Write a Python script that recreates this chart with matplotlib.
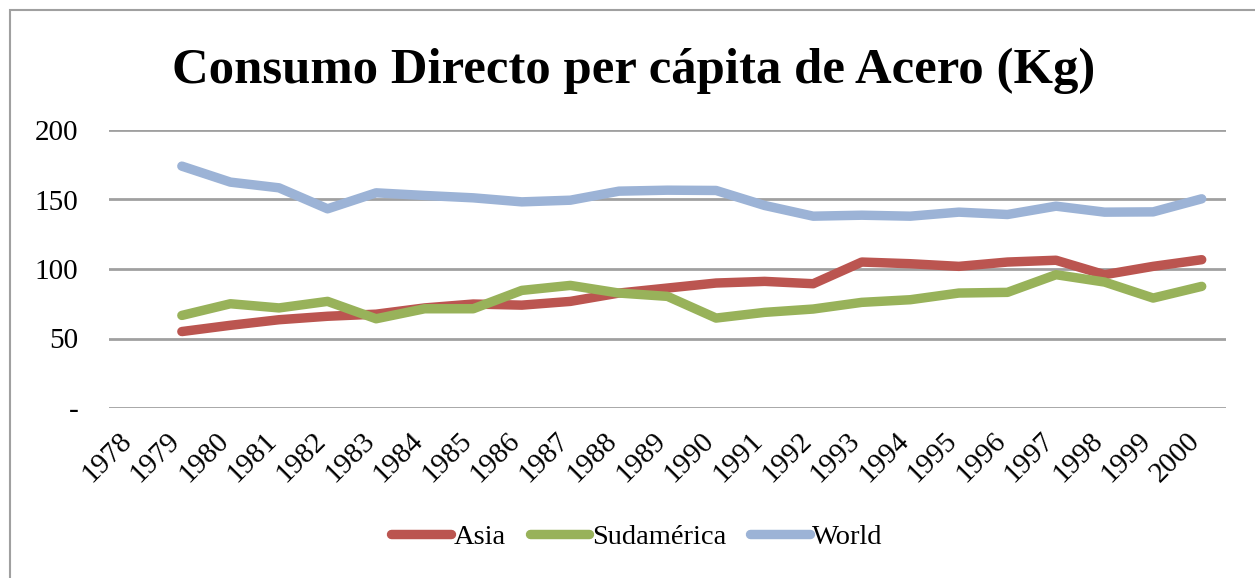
import matplotlib
matplotlib.use("Agg")
import matplotlib.pyplot as plt
import matplotlib.transforms as mtransforms
import numpy as np
from matplotlib.patches import Rectangle

years = [str(y) for y in range(1978, 2001)]
asia = [np.nan, 55, 59.5, 63.5, 66, 67.5, 72, 74.8, 74, 76.7, 82.7, 86.3, 89.9,
        91.1, 89.4, 105, 103.8, 101.9, 105, 106.3, 95.9, 101.9, 106.7]
sudamerica = [np.nan, 66.6, 75, 72, 76.7, 64.2, 71.4, 71.4, 84.6, 88.2, 82.7, 80.3,
              64.7, 68.8, 71.2, 76, 77.9, 82.7, 83.2, 95.9, 90.6, 79.1, 87.5]
world = [np.nan, 174, 162.5, 158.4, 143.3, 154.8, 152.9, 151.2, 148.3, 149.5, 156,
         156.7, 156.5, 145.7, 138, 138.7, 138, 140.9, 139.2, 145.2, 140.9, 141.1, 150.5]
yticks = [0, 50, 100, 150, 200]
ytick_labels = ["-", "50", "100", "150", "200"]

series = [("Asia", asia, "#BB5550"), ("Sudamérica", sudamerica, "#98B25A"),
          ("World", world, "#9CB3D6")]

W, H = 1255, 578
fig = plt.figure(figsize=(W / 100, H / 100), dpi=100)
serif = ["Liberation Serif", "DejaVu Serif"]

ax = fig.add_axes([109 / W, 1 - 408 / H, (1226 - 109) / W, (408 - 130) / H])
x = np.arange(len(years))
for name, vals, col in series:
    ax.plot(x, vals, color=col, lw=6.8, solid_capstyle="round",
            solid_joinstyle="round", label=name, zorder=3)

ax.set_xlim(-0.5, len(years) - 0.5)
ax.set_ylim(0, 200)
ax.set_yticks(yticks)
ax.set_yticklabels(ytick_labels, fontfamily=serif, fontsize=21)
ax.set_xticks(x)
ax.set_xticklabels(years, fontfamily=serif, fontsize=21, rotation=45,
                   ha="right", va="top", rotation_mode="anchor")
ax.tick_params(axis="y", length=0, pad=22)
ax.tick_params(axis="x", length=0, pad=14)
offset = mtransforms.ScaledTranslation(-15 / 100, 0, fig.dpi_scale_trans)
for lab in ax.get_xticklabels():
    lab.set_transform(lab.get_transform() + offset)
ax.grid(axis="y", color="#A0A0A0", lw=2, zorder=1)
ax.set_axisbelow(True)
for s in ax.spines.values():
    s.set_visible(False)

fig.text(634 / W, 1 - 71 / H, "Consumo Directo per cápita de Acero (Kg)",
         ha="center", va="center", fontfamily=serif, fontweight="bold", fontsize=36.5)

leg = fig.legend(loc="center", bbox_to_anchor=(637 / W, 1 - 537 / H), ncol=3,
                 frameon=False, prop={"family": serif, "size": 20.5},
                 handlelength=2.1, handletextpad=0.08, columnspacing=0.85)

fig.patches.append(Rectangle((10 / W, -0.1), 1.2, 1 - 10 / H + 0.1,
                             transform=fig.transFigure, fill=False,
                             edgecolor="#A0A0A0", lw=1.5))

fig.savefig("out.png", dpi=100)
